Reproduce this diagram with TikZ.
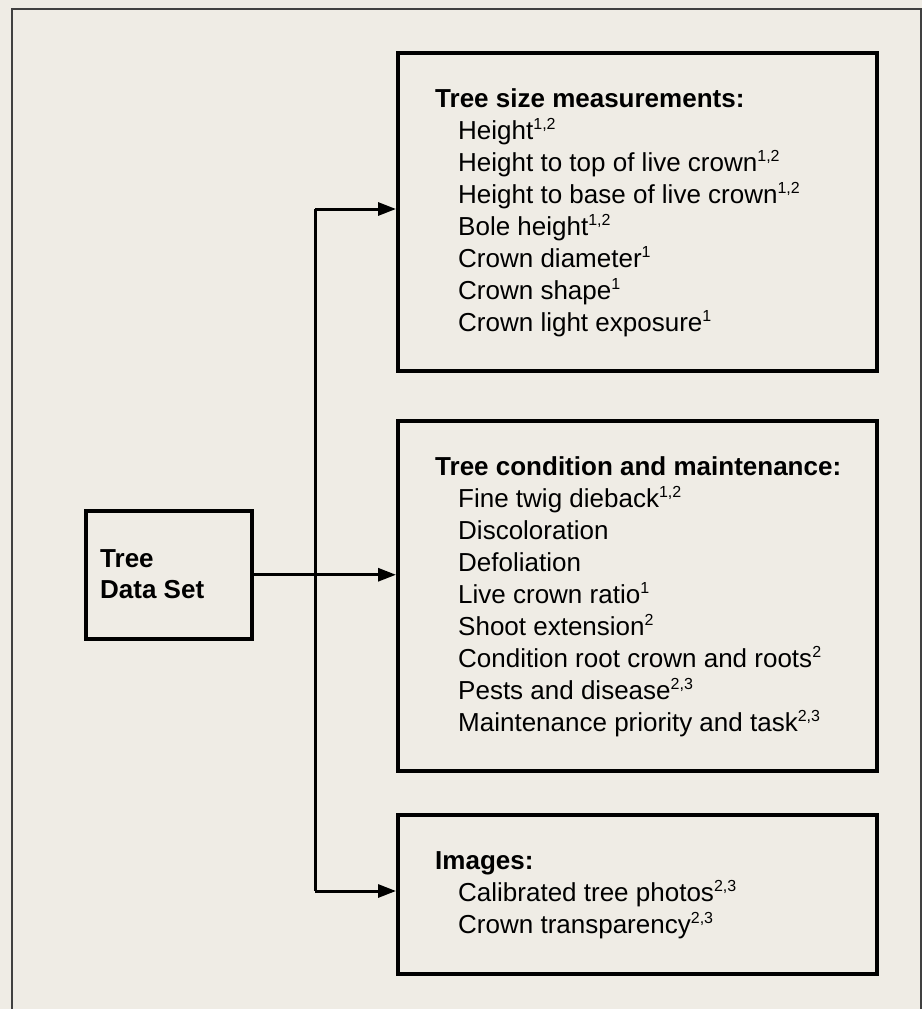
\documentclass[tikz,border=0pt]{standalone}
\usepackage{fontspec}
\setmainfont{Liberation Sans}
\usetikzlibrary{arrows.meta}
\definecolor{bg}{HTML}{EFECE5}
\tikzset{
  box/.style={draw=black, line width=3.5pt},
  conn/.style={draw=black, line width=3pt},
  arr/.style={conn, -{Triangle[length=18pt,width=13pt]}},
  head/.style={anchor=base west, inner sep=0pt, font=\fontsize{26}{26}\selectfont\bfseries},
  item/.style={anchor=base west, inner sep=0pt, font=\fontsize{26}{26}\selectfont},
}
\newcommand{\sups}[1]{\textsuperscript{\fontsize{16}{16}\selectfont #1}}
\begin{document}
\begin{tikzpicture}[x=1pt,y=-1pt]
\useasboundingbox (0,0) rectangle (922,1009);
\fill[bg] (0,0) rectangle (922,1009);
\draw[line width=2.5pt, draw=black!75] (12,1012) -- (12,9) -- (921,9) -- (921,1012);
% left box
\node[box, minimum width=166pt, minimum height=128pt, anchor=north west] (tds) at (84,509) {};
\node[head] (t1) at (100,567) {Tree};
\node[head] (t2) at (100,598) {Data Set};
% right boxes
\node[box, minimum width=479pt, minimum height=318pt, anchor=north west] (b1) at (396,51) {};
\node[box, minimum width=479pt, minimum height=350pt, anchor=north west] (b2) at (396,419) {};
\node[box, minimum width=479pt, minimum height=159pt, anchor=north west] (b3) at (396,813) {};
% box1 text
\node[head] (h1) at (435,107) {Tree size measurements:};
\node[item] at (458,139) {Height\sups{1,2}};
\node[item] at (458,171) {Height to top of live crown\sups{1,2}};
\node[item] at (458,203) {Height to base of live crown\sups{1,2}};
\node[item] at (458,235) {Bole height\sups{1,2}};
\node[item] at (458,267) {Crown diameter\sups{1}};
\node[item] at (458,299) {Crown shape\sups{1}};
\node[item] at (458,331) {Crown light exposure\sups{1}};
% box2 text
\node[head] (h2) at (435,475) {Tree condition and maintenance:};
\node[item] at (458,507) {Fine twig dieback\sups{1,2}};
\node[item] at (458,539) {Discoloration};
\node[item] at (458,571) {Defoliation};
\node[item] at (458,603) {Live crown ratio\sups{1}};
\node[item] at (458,635) {Shoot extension\sups{2}};
\node[item] at (458,667) {Condition root crown and roots\sups{2}};
\node[item] at (458,699) {Pests and disease\sups{2,3}};
\node[item] at (458,731) {Maintenance priority and task\sups{2,3}};
% box3 text
\node[head] (h3) at (435,869) {Images:};
\node[item] at (458,901) {Calibrated tree photos\sups{2,3}};
\node[item] at (458,933) {Crown transparency\sups{2,3}};
% connectors
\coordinate (jt) at (315,209);
\coordinate (jb) at (315,891);
\draw[arr] (tds.east) -- (b2.west |- tds.east);
\draw[conn] (jt) -- (jb);
\draw[arr] (jt) -- (b1.west |- jt);
\draw[arr] (jb) -- (b3.west |- jb);
\end{tikzpicture}
\end{document}
